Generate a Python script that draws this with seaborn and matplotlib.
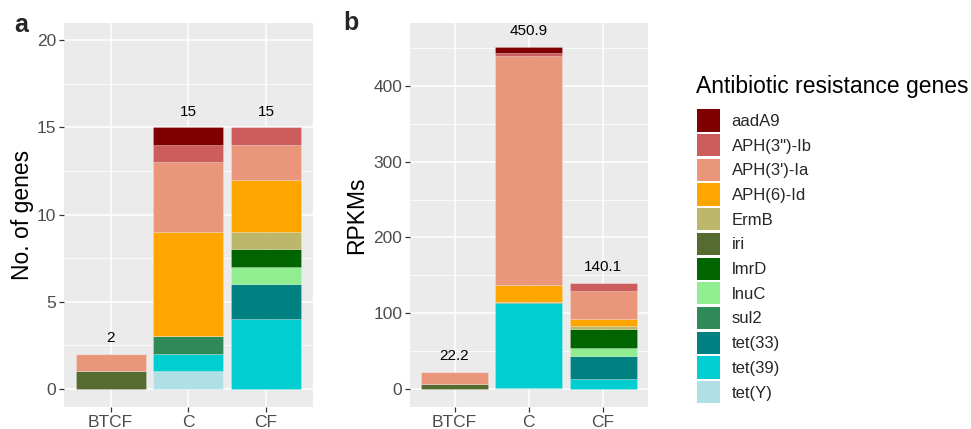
import matplotlib
matplotlib.use('Agg')
import matplotlib.pyplot as plt
from matplotlib.patches import Patch
from matplotlib.ticker import MultipleLocator
import seaborn as sns
import pandas as pd

samples = ['BTCF', 'C', 'CF']
genes = ['aadA9', 'APH(3")-Ib', "APH(3')-Ia", 'APH(6)-Id', 'ErmB', 'iri',
         'lmrD', 'lnuC', 'sul2', 'tet(33)', 'tet(39)', 'tet(Y)']
gene_colors = ['#7F0000', '#CD5C5C', '#E9967A', '#FFA500', '#BDB76B', '#556B2F',
               '#006400', '#90EE90', '#2E8B57', '#008080', '#00CED1', '#B0E0E6']

# number of genes per sample (BTCF, C, CF)
n_aadA9 = [0, 1, 0]
n_aph3b = [0, 1, 1]
n_aph3a = [1, 4, 2]
n_aph6 = [0, 6, 3]
n_ermB = [0, 0, 1]
n_iri = [1, 0, 0]
n_lmrD = [0, 0, 1]
n_lnuC = [0, 0, 1]
n_sul2 = [0, 1, 0]
n_tet33 = [0, 0, 2]
n_tet39 = [0, 1, 4]
n_tetY = [0, 1, 0]

# RPKMs per sample (BTCF, C, CF)
r_aadA9 = [0, 7.0, 0]
r_aph3b = [0, 5.0, 10.3]
r_aph3a = [15.2, 301.6, 37.4]
r_aph6 = [0, 22.8, 8.8]
r_ermB = [0, 0, 4.4]
r_iri = [7.0, 0, 0]
r_lmrD = [0, 0, 24.7]
r_lnuC = [0, 0, 10.9]
r_sul2 = [0, 0.5, 0]
r_tet33 = [0, 0, 30.8]
r_tet39 = [0, 113.0, 12.8]
r_tetY = [0, 1.0, 0]

counts = [n_aadA9, n_aph3b, n_aph3a, n_aph6, n_ermB, n_iri,
          n_lmrD, n_lnuC, n_sul2, n_tet33, n_tet39, n_tetY]
rpkms = [r_aadA9, r_aph3b, r_aph3a, r_aph6, r_ermB, r_iri,
         r_lmrD, r_lnuC, r_sul2, r_tet33, r_tet39, r_tetY]


def long_table(values):
    rows = []
    for s_i, s in enumerate(samples):
        for g, v in zip(genes, values):
            rows.append({'sample': s, 'gene': g, 'value': v[s_i]})
    return pd.DataFrame(rows)


sns.set_style('darkgrid')
plt.rcParams['font.family'] = ['Liberation Sans', 'DejaVu Sans']

fig = plt.figure(figsize=(9.71, 4.29), dpi=100)
ax1 = fig.add_axes([0.0659, 0.0513, 0.2562, 0.8951])
ax2 = fig.add_axes([0.4222, 0.0513, 0.2448, 0.8951])

palette = dict(zip(genes, gene_colors))


def stacked(ax, values, ylabel, ylim, major, minor, offset, fmt):
    df = long_table(values)
    sns.histplot(data=df, x='sample', weights='value', hue='gene', hue_order=genes,
                 multiple='stack', discrete=True, shrink=0.9, palette=palette,
                 alpha=1, linewidth=0.4, edgecolor=(1, 1, 1, 0.35), legend=False, ax=ax)
    totals = df.groupby('sample', sort=False)['value'].sum()
    for i, s in enumerate(samples):
        ax.text(i, totals[s] + offset, fmt(totals[s]), ha='center', va='center',
                fontsize=11, color='black')
    ax.set_facecolor('#EBEBEB')
    for sp in ax.spines.values():
        sp.set_visible(False)
    ax.set_xlim(-0.6, 2.6)
    ax.set_ylim(*ylim)
    ax.set_xticks(range(len(samples)))
    ax.set_xticklabels(samples)
    ax.yaxis.set_major_locator(MultipleLocator(major))
    ax.yaxis.set_minor_locator(MultipleLocator(minor))
    ax.set_axisbelow(True)
    ax.grid(which='major', color='white', linewidth=1.1)
    ax.grid(which='minor', axis='y', color='white', linewidth=0.55)
    ax.tick_params(which='major', length=3.5, width=0.9, color='#333333',
                   labelsize=12.5, labelcolor='#4D4D4D', pad=2,
                   bottom=True, left=True)
    ax.tick_params(which='minor', length=0)
    ax.set_xlabel('')
    ax.set_ylabel(ylabel, fontsize=16.5, color='black')


stacked(ax1, counts, 'No. of genes', (-1.05, 21.0), 5, 2.5, 0.9,
        lambda v: f'{v:.0f}')
stacked(ax2, rpkms, 'RPKMs', (-23.8, 483), 100, 50, 21.3,
        lambda v: f'{v:.1f}')
ax1.yaxis.set_label_coords(-0.121, 0.5)
ax2.yaxis.set_label_coords(-0.176, 0.5)

fig.text(21 / 971, 1 - 25 / 429, 'a', fontsize=18, fontweight='bold',
         ha='center', va='center')
fig.text(351 / 971, 1 - 23 / 429, 'b', fontsize=18, fontweight='bold',
         ha='center', va='center')

fig.text(696.5 / 971, 1 - 87 / 429, 'Antibiotic resistance genes', fontsize=16.5,
         ha='left', va='center', color='black')
handles = [Patch(facecolor=c, edgecolor='none', label=g)
           for g, c in zip(genes, gene_colors)]
fig.legend(handles=handles, loc='upper left',
           bbox_to_anchor=(697 / 971, 1 - 109.3 / 429),
           frameon=False, fontsize=12, handlelength=1.36, handleheight=1.68,
           labelspacing=0.145, handletextpad=0.72, borderaxespad=0, borderpad=0)

fig.savefig('out.png', dpi=100)
